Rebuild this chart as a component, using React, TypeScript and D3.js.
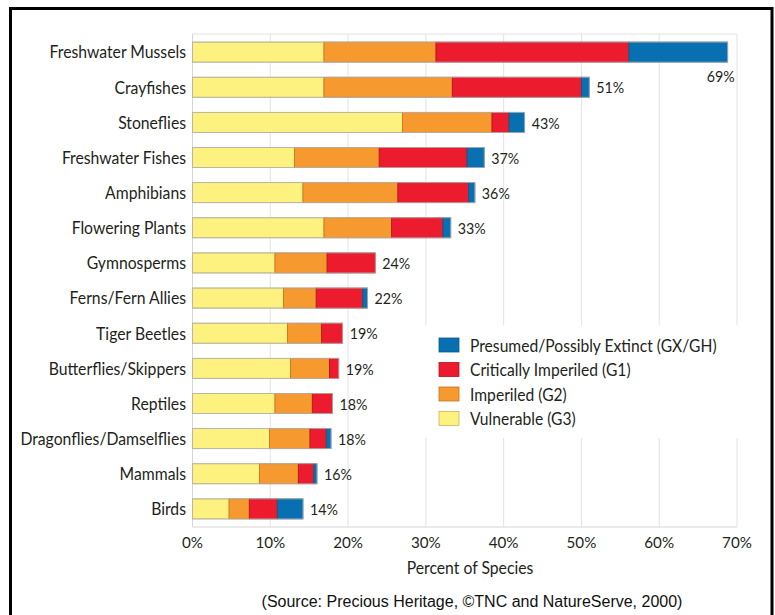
import React from "react";
import * as d3 from "d3";

const categories = [
  "Freshwater Mussels", "Crayfishes", "Stoneflies", "Freshwater Fishes", "Amphibians",
  "Flowering Plants", "Gymnosperms", "Ferns/Fern Allies", "Tiger Beetles", "Butterflies/Skippers",
  "Reptiles", "Dragonflies/Damselflies", "Mammals", "Birds",
];
const vulnerable = [16.9, 16.9, 27.0, 13.1, 14.2, 16.9, 10.6, 11.7, 12.2, 12.6, 10.6, 9.9, 8.6, 4.7];
const imperiled = [14.4, 16.5, 11.5, 10.9, 12.2, 8.7, 6.7, 4.2, 4.4, 5.0, 4.8, 5.2, 5.0, 2.6];
const critical = [24.8, 16.6, 2.2, 11.3, 9.1, 6.6, 6.2, 6.0, 2.7, 1.2, 2.6, 2.1, 2.0, 3.6];
const extinct = [12.7, 1.0, 2.0, 2.2, 0.8, 1.0, 0, 0.6, 0, 0, 0, 0.6, 0.4, 3.3];
const totalLabels = ["69%", "51%", "43%", "37%", "36%", "33%", "24%", "22%", "19%", "19%", "18%", "18%", "16%", "14%"];
const xTicks = [0, 10, 20, 30, 40, 50, 60, 70];
const seriesKeys = ["vulnerable", "imperiled", "critical", "extinct"];
const seriesNames = ["Vulnerable (G3)", "Imperiled (G2)", "Critically Imperiled (G1)", "Presumed/Possibly Extinct (GX/GH)"];
const seriesFill = ["#fdf180", "#f6992f", "#ec1c2e", "#0870b0"];
const seriesStroke = ["#c9b85a", "#c8701c", "#b0141f", "#0a5a8c"];

const W = 775, H = 615;
const FONT = "Lato, 'Open Sans', sans-serif";

function T({ x, y, sx = 1, size, anchor = "start", children, family = FONT, fill = "#231f20" }: any) {
  return (
    <text transform={`translate(${x},${y}) scale(${sx},1)`} x={0} y={0} textAnchor={anchor}
      dominantBaseline="central" fontFamily={family} fontSize={size} fill={fill}>
      {children}
    </text>
  );
}

export default function App() {
  const rows = categories.map((c, i) => ({
    cat: c, vulnerable: vulnerable[i], imperiled: imperiled[i], critical: critical[i], extinct: extinct[i],
  }));
  const stacked = d3.stack<any>().keys(seriesKeys)(rows);
  const x = d3.scaleLinear().domain([0, 70]).range([192.5, 737]);
  const y = d3.scaleBand().domain(categories).range([34, 527]).paddingInner(0.43).paddingOuter(0.23);
  const bw = y.bandwidth();
  const totals = rows.map((r) => r.vulnerable + r.imperiled + r.critical + r.extinct);
  const legendOrder = [3, 2, 1, 0];

  return (
    <div style={{ position: "absolute", left: 0, top: 0 }}>
      <svg width={W} height={H} style={{ display: "block", background: "#fff" }}>
        <rect x={0} y={0} width={W} height={H} fill="#fff" />
        {xTicks.map((t) => (
          <line key={t} x1={x(t)} x2={x(t)} y1={34} y2={527} stroke="#e2e2e2" strokeWidth={1} />
        ))}
        <line x1={x(0)} x2={x(70)} y1={34} y2={34} stroke="#e2e2e2" />
        <line x1={x(0)} x2={x(70)} y1={527} y2={527} stroke="#d6d6d6" />
        <line x1={x(0)} x2={x(0)} y1={34} y2={527} stroke="#d6d6d6" />
        <rect x={425} y={325} width={322} height={113} fill="#fff" />
        {stacked.map((s, si) => (
          <g key={s.key}>
            {s.map((d, i) =>
              d[1] - d[0] > 0 ? (
                <rect key={i} x={x(d[0])} y={y(categories[i])!} width={x(d[1]) - x(d[0])} height={bw}
                  fill={seriesFill[si]} stroke={seriesStroke[si]} strokeWidth={0.8} />
              ) : null
            )}
          </g>
        ))}
        {totals.map((t, i) => (
          <rect key={i} x={x(0)} y={y(categories[i])!} width={x(t) - x(0)} height={bw}
            fill="none" stroke="#b4b4b4" strokeWidth={0.8} />
        ))}
        {categories.map((c) => (
          <T key={c} x={186} y={y(c)! + bw / 2} sx={0.9} size={17.5} anchor="end">{c}</T>
        ))}
        {totals.map((t, i) =>
          i === 0 ? (
            <T key={i} x={x(t) + 7} y={y(categories[i])! + bw + 14} sx={0.92} size={15.5} anchor="end">{totalLabels[i]}</T>
          ) : (
            <T key={i} x={x(t) + 7} y={y(categories[i])! + bw / 2} sx={0.92} size={15.5}>{totalLabels[i]}</T>
          )
        )}
        {xTicks.map((t) => (
          <T key={t} x={x(t)} y={542} sx={0.95} size={16} anchor="middle">{t + "%"}</T>
        ))}
        <T x={470} y={568} sx={0.9} size={17.5} anchor="middle">Percent of Species</T>
        {legendOrder.map((si, k) => (
          <g key={si} transform={`translate(439, ${338 + k * 24.5})`}>
            <rect x={0} y={0} width={20} height={14} fill={seriesFill[si]} stroke={seriesStroke[si]} strokeWidth={0.8} />
            <T x={31} y={7} sx={0.92} size={17}>{seriesNames[si]}</T>
          </g>
        ))}
        <T x={472} y={601} size={16} anchor="middle" family="'Liberation Sans', Arial, sans-serif" fill="#111">
          (Source: Precious Heritage, ©TNC and NatureServe, 2000)
        </T>
        <rect x={10.5} y={8.5} width={761.5} height={650} fill="none" stroke="#000" strokeWidth={3} />
      </svg>
    </div>
  );
}
